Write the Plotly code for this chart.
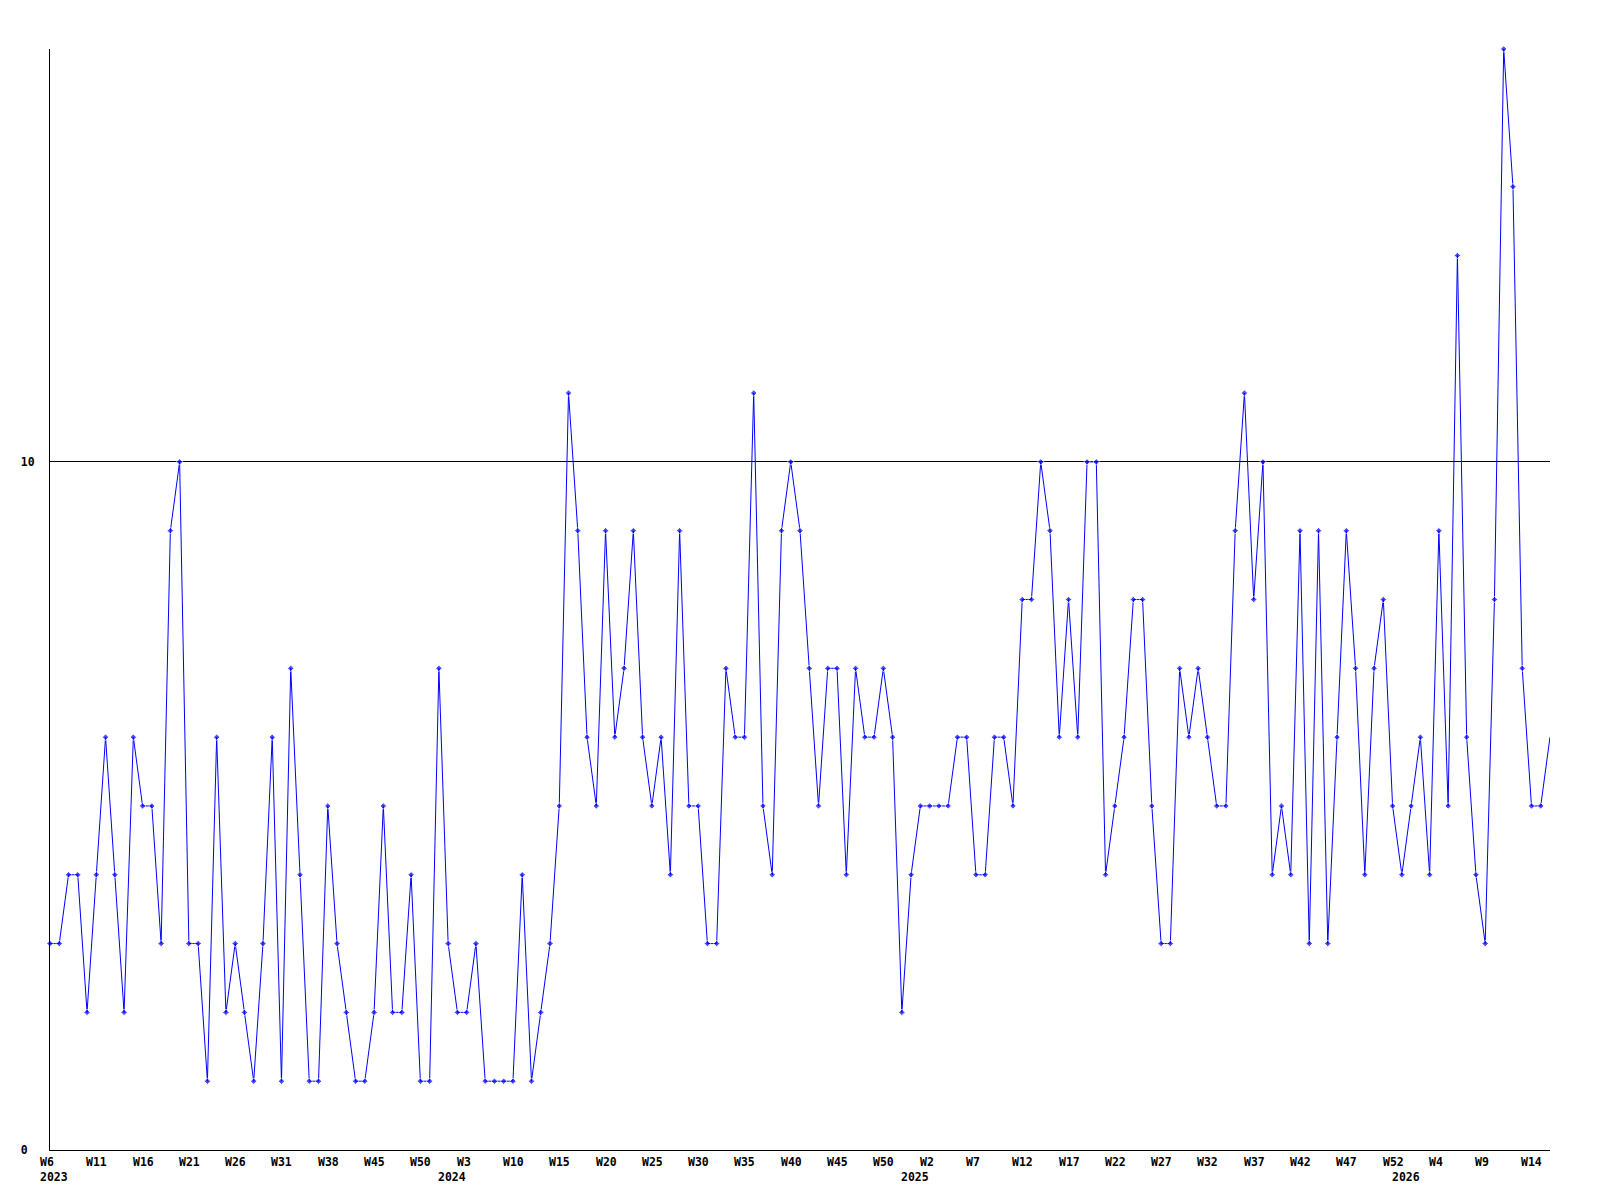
import plotly.graph_objects as go

# Weekly values, 2023 W6 .. 2026 W16 (163 points)
values = [
    3, 3, 4, 4, 2, 4, 6, 4, 2, 6,
    5, 5, 3, 9, 10, 3, 3, 1, 6, 2,
    3, 2, 1, 3, 6, 1, 7, 4, 1, 1,
    5, 3, 2, 1, 1, 2, 5, 2, 2, 4,
    1, 1, 7, 3, 2, 2, 3, 1, 1, 1,
    1, 4, 1, 2, 3, 5, 11, 9, 6, 5,
    9, 6, 7, 9, 6, 5, 6, 4, 9, 5,
    5, 3, 3, 7, 6, 6, 11, 5, 4, 9,
    10, 9, 7, 5, 7, 7, 4, 7, 6, 6,
    7, 6, 2, 4, 5, 5, 5, 5, 6, 6,
    4, 4, 6, 6, 5, 8, 8, 10, 9, 6,
    8, 6, 10, 10, 4, 5, 6, 8, 8, 5,
    3, 3, 7, 6, 7, 6, 5, 5, 9, 11,
    8, 10, 4, 5, 4, 9, 3, 9, 3, 6,
    9, 7, 4, 7, 8, 5, 4, 5, 6, 4,
    9, 5, 13, 6, 4, 3, 8, 16, 14, 7,
    5, 5, 6,
]

# Week tick labels (every 5th point)
week_labels = ["W6", "W11", "W16", "W21", "W26", "W31", "W38", "W45", "W50",
               "W3", "W10", "W15", "W20", "W25", "W30", "W35", "W40", "W45", "W50",
               "W2", "W7", "W12", "W17", "W22", "W27", "W32", "W37", "W42", "W47", "W52",
               "W4", "W9", "W14"]
week_label_index = [i * 5 for i in range(len(week_labels))]

# Year labels and the index of the first point in each year
year_labels = ["2023", "2024", "2025", "2026"]
year_label_index = [0, 43, 93, 146]

y_tick_values = [0, 10]
y_tick_labels = ["0\u00a0", "10"]

x = list(range(len(values)))
FONT = dict(family="DejaVu Sans Mono", size=11.5, color="black", weight="bold")

marker_sizes = [5] * len(values)
marker_sizes[-1] = 0

fig = go.Figure()
fig.add_trace(go.Scatter(
    x=x, y=values, mode="lines+markers",
    line=dict(color="#0000ff", width=1),
    marker=dict(symbol="diamond", size=marker_sizes, color="#0000ff"),
    cliponaxis=False,
    showlegend=False,
))

annotations = []
for idx, lab in zip(week_label_index, week_labels):
    annotations.append(dict(x=idx, xref="x", y=0, yref="paper", text=lab,
                            showarrow=False, xanchor="left", yanchor="middle",
                            xshift=-12, yshift=-12, font=FONT))
for idx, lab in zip(year_label_index, year_labels):
    annotations.append(dict(x=idx, xref="x", y=0, yref="paper", text=lab,
                            showarrow=False, xanchor="left", yanchor="middle",
                            xshift=-12, yshift=-27, font=FONT))

fig.update_layout(
    width=1600, height=1200,
    margin=dict(l=42, r=58, t=41, b=58),
    paper_bgcolor="white", plot_bgcolor="white",
    annotations=annotations,
    xaxis=dict(range=[0, len(values) - 1], showgrid=False, zeroline=False,
               showline=True, linecolor="black", linewidth=1,
               showticklabels=False, ticks=""),
    yaxis=dict(range=[0, 16], tickvals=y_tick_values, ticktext=y_tick_labels,
               showgrid=True, gridcolor="black", gridwidth=1, zeroline=False,
               showline=True, linecolor="black", linewidth=1, ticks="",
               ticklabelstandoff=12, tickfont=FONT),
)

fig.write_html("out.html")
